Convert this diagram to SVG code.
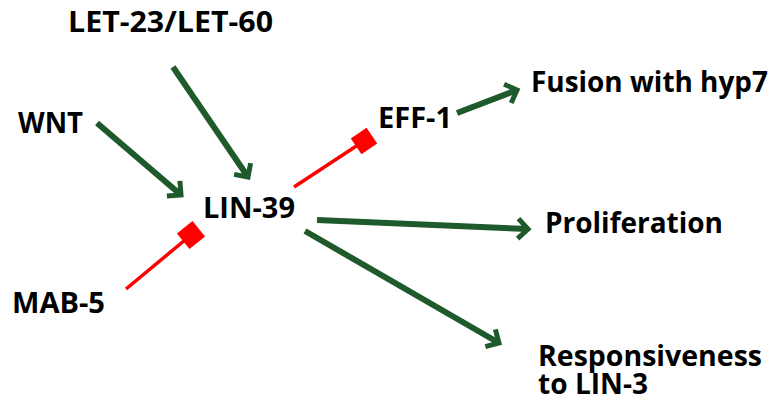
<svg xmlns="http://www.w3.org/2000/svg" width="776" height="406" viewBox="0 0 776 406">
<defs>
<style>
.lbl{font-family:"Open Sans","Liberation Sans",sans-serif;font-weight:bold;font-size:29px;fill:#000}
.act{stroke:#1e5a2b;stroke-width:6;fill:none}
.inh{stroke:#ff0000;stroke-width:3.5;fill:none}
.blk{fill:#ff0000}
</style>
<marker id="arr" markerUnits="userSpaceOnUse" viewBox="-14 -14 20 28" markerWidth="20" markerHeight="28" refX="0" refY="0" orient="auto" overflow="visible">
<path d="M-10,-10 L0,0 L-10,10" fill="none" stroke="#1e5a2b" stroke-width="5" stroke-linejoin="miter"/>
</marker>
</defs>
<rect width="776" height="406" fill="#fff"/>
<g id="connectors">
<line class="act" x1="173" y1="67" x2="248" y2="177" marker-end="url(#arr)"/>
<line class="act" x1="97" y1="123" x2="181" y2="195" marker-end="url(#arr)"/>
<line class="act" x1="457" y1="113" x2="517" y2="90" marker-end="url(#arr)"/>
<line class="act" x1="317" y1="220" x2="528" y2="229" marker-end="url(#arr)"/>
<line class="act" x1="305" y1="231" x2="499" y2="343" marker-end="url(#arr)"/>
<line class="inh" x1="294" y1="187" x2="364" y2="141"/>
<rect class="blk" x="-9.5" y="-9.5" width="19" height="19" transform="translate(364,141) rotate(-34)"/>
<line class="inh" x1="126" y1="289" x2="191" y2="235"/>
<rect class="blk" x="-10" y="-10" width="20" height="20" transform="translate(191,235) rotate(-39)"/>
</g>
<g id="let23"><text class="lbl" x="68" y="32" textLength="205" lengthAdjust="spacingAndGlyphs">LET-23/LET-60</text></g>
<g id="wnt"><text class="lbl" x="18" y="133" textLength="65" lengthAdjust="spacingAndGlyphs">WNT</text></g>
<g id="lin39"><text class="lbl" x="203" y="218" textLength="92" lengthAdjust="spacingAndGlyphs">LIN-39</text></g>
<g id="eff1"><text class="lbl" x="378" y="128" textLength="74" lengthAdjust="spacingAndGlyphs">EFF-1</text></g>
<g id="mab5"><text class="lbl" x="12" y="313" textLength="93" lengthAdjust="spacingAndGlyphs">MAB-5</text></g>
<g id="fusion"><text class="lbl" x="531" y="92" textLength="237" lengthAdjust="spacingAndGlyphs">Fusion with hyp7</text></g>
<g id="prolif"><text class="lbl" x="545" y="233" textLength="178" lengthAdjust="spacingAndGlyphs">Proliferation</text></g>
<g id="resp"><text class="lbl" x="538" y="366" textLength="224" lengthAdjust="spacingAndGlyphs">Responsiveness</text><text class="lbl" x="538" y="394" textLength="110" lengthAdjust="spacingAndGlyphs">to LIN-3</text></g>
</svg>
